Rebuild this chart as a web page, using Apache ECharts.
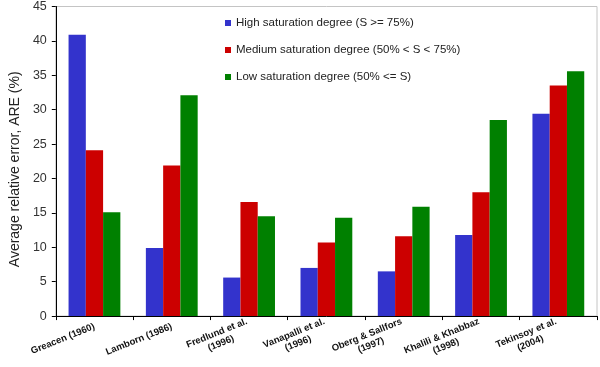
<!DOCTYPE html>
<html>
<head>
<meta charset="utf-8">
<script src="https://cdn.jsdelivr.net/npm/echarts@6/dist/echarts.min.js"></script>
<style>
html,body{margin:0;padding:0;background:#fff;}
#c{width:600px;height:367px;}
</style>
</head>
<body>
<div id="c"></div>
<script>
const categories = ['Greacen (1960)', 'Lamborn (1986)', 'Fredlund et al.\n(1996)', 'Vanapalli et al.\n(1996)', 'Oberg & Sallfors\n(1997)', 'Khalili & Khabbaz\n(1998)', 'Tekinsoy et al.\n(2004)'];
const seriesNames = ['High saturation degree (S >= 75%)', 'Medium saturation degree (50% < S < 75%)', 'Low saturation degree (50% <= S)'];
const highValues = [40.9, 9.9, 5.6, 7.0, 6.5, 11.8, 29.4];
const mediumValues = [24.1, 21.9, 16.6, 10.7, 11.6, 18.0, 33.5];
const lowValues = [15.1, 32.1, 14.5, 14.3, 15.9, 28.5, 35.6];
const yTicks = [0, 5, 10, 15, 20, 25, 30, 35, 40, 45];

const colors = ['#3333CC', '#CC0000', '#008000'];
const chart = echarts.init(document.getElementById('c'), null, {renderer: 'canvas'});
const font = 'Arial, "Liberation Sans", sans-serif';

chart.setOption({
  animation: false,
  color: colors,
  grid: {left: 43, right: 3, top: 5, bottom: 50, show: true, borderColor: '#c4c4c4', borderWidth: 1},
  legend: {
    orient: 'vertical', left: 225, top: 16, padding: 0,
    itemWidth: 6, itemHeight: 6, itemGap: 13, icon: 'rect',
    textStyle: {fontFamily: font, fontSize: 11.5, color: '#222', lineHeight: 14},
    data: seriesNames
  },
  xAxis: {
    type: 'category', data: categories,
    axisLine: {lineStyle: {color: '#000', width: 1}},
    axisTick: {show: true, length: 4, lineStyle: {color: '#000'}},
    axisLabel: {
      rotate: 22, margin: 10, interval: 0,
      formatter: v => v.split('\n').map(s => '{c|' + s + '}').join('\n'),
      rich: {c: {align: 'center', fontFamily: font, fontWeight: 'bold', fontSize: 9.5, color: '#111', lineHeight: 11}}
    }
  },
  yAxis: {
    type: 'value', min: yTicks[0], max: yTicks[yTicks.length - 1], interval: yTicks[1] - yTicks[0],
    name: 'Average relative error, ARE (%)', nameLocation: 'middle', nameGap: 25,
    nameTextStyle: {fontFamily: font, fontSize: 14, color: '#222', padding: [0, 16, 0, 0]},
    axisLine: {show: true, lineStyle: {color: '#000', width: 1}},
    axisTick: {show: true, length: 4, lineStyle: {color: '#000'}},
    axisLabel: {margin: 9, fontFamily: font, fontSize: 12.5, color: '#333'},
    splitLine: {show: false}
  },
  series: [
    {name: seriesNames[0], type: 'bar', data: highValues, barGap: '0%', barCategoryGap: '33%'},
    {name: seriesNames[1], type: 'bar', data: mediumValues, barGap: '0%', barCategoryGap: '33%'},
    {name: seriesNames[2], type: 'bar', data: lowValues, barGap: '0%', barCategoryGap: '33%'}
  ]
});
</script>
</body>
</html>
